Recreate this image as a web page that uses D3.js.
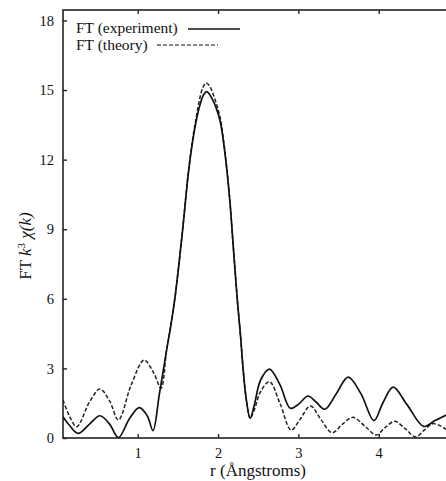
<!DOCTYPE html>
<html>
<head>
<meta charset="utf-8">
<script src="https://cdn.jsdelivr.net/npm/d3@7"></script>
<style>
  html, body { margin: 0; padding: 0; background: #fff; }
  svg { display: block; }
  svg text { font-family: "Liberation Serif", "Times New Roman", Times, serif !important; fill: #111; }
</style>
</head>
<body>
<svg id="chart" width="446" height="481"></svg>
<script>
// ---- data ----
const expR = [0.07, 0.15, 0.26, 0.40, 0.53, 0.65, 0.76, 0.90, 1.02, 1.12, 1.19, 1.27, 1.36, 1.41, 1.46, 1.51, 1.56, 1.63, 1.68, 1.73, 1.77, 1.82, 1.86, 1.93, 1.98, 2.03, 2.07, 2.11, 2.15, 2.18, 2.21, 2.24, 2.28, 2.31, 2.35, 2.40, 2.45, 2.53, 2.64, 2.77, 2.90, 3.00, 3.12, 3.22, 3.33, 3.47, 3.62, 3.78, 3.94, 4.05, 4.18, 4.35, 4.56, 4.70, 4.85];
const expV = [0.92, 0.55, 0.20, 0.60, 0.96, 0.60, 0.02, 0.85, 1.31, 0.95, 0.32, 1.90, 3.80, 4.80, 5.95, 7.40, 9.00, 11.40, 12.70, 13.70, 14.30, 14.80, 14.93, 14.60, 14.20, 13.60, 12.70, 11.55, 10.10, 8.70, 7.30, 5.95, 4.40, 3.06, 1.70, 0.85, 1.40, 2.50, 2.97, 2.30, 1.28, 1.45, 1.81, 1.55, 1.24, 1.90, 2.62, 1.90, 0.75, 1.50, 2.19, 1.45, 0.50, 0.75, 1.00];

const thR = [0.07, 0.15, 0.24, 0.40, 0.53, 0.65, 0.76, 0.92, 1.08, 1.20, 1.29, 1.36, 1.41, 1.46, 1.51, 1.56, 1.63, 1.68, 1.73, 1.77, 1.81, 1.85, 1.89, 1.93, 1.98, 2.03, 2.07, 2.11, 2.15, 2.18, 2.21, 2.24, 2.28, 2.31, 2.35, 2.40, 2.45, 2.53, 2.64, 2.77, 2.91, 3.02, 3.15, 3.28, 3.42, 3.55, 3.68, 3.83, 3.97, 4.08, 4.20, 4.33, 4.46, 4.57, 4.68, 4.85];
const thV = [1.64, 0.95, 0.49, 1.55, 2.11, 1.60, 0.78, 2.30, 3.36, 2.80, 2.15, 3.80, 4.80, 5.95, 7.40, 9.00, 11.45, 12.80, 13.85, 14.60, 15.10, 15.30, 15.20, 14.90, 14.40, 13.75, 12.80, 11.60, 10.10, 8.70, 7.30, 5.95, 4.40, 3.06, 1.70, 0.85, 1.20, 2.00, 2.43, 1.50, 0.34, 0.80, 1.38, 0.80, 0.23, 0.60, 0.89, 0.50, 0.13, 0.45, 0.72, 0.40, 0.05, 0.35, 0.62, 0.35];

const xTicks = [1, 2, 3, 4];
const yTicks = [0, 3, 6, 9, 12, 15, 18];
const seriesNames = ["FT (experiment)", "FT (theory)"];

// ---- layout ----
const svg = d3.select("#chart");
const x = d3.scaleLinear().domain([0.07, 4.85]).range([63, 447]);
const y = d3.scaleLinear().domain([0, 18.45]).range([438, 10]);
const SERIF = "'Liberation Serif', 'Times New Roman', Times, serif";

// frame
svg.append("rect")
  .attr("x", x.range()[0]).attr("y", y.range()[1])
  .attr("width", x.range()[1] - x.range()[0])
  .attr("height", y.range()[0] - y.range()[1])
  .attr("fill", "none").attr("stroke", "#222").attr("stroke-width", 1.6);

// axes with inward ticks
const axB = svg.append("g").attr("transform", `translate(0,${y(0)})`)
  .call(d3.axisBottom(x).tickValues(xTicks).tickSizeInner(-4).tickSizeOuter(0).tickPadding(10).tickFormat(d3.format("d")));
const axT = svg.append("g").attr("transform", `translate(0,${y.range()[1]})`)
  .call(d3.axisTop(x).tickValues(xTicks).tickSizeInner(-4).tickSizeOuter(0).tickFormat(""));
const axL = svg.append("g").attr("transform", `translate(${x.range()[0]},0)`)
  .call(d3.axisLeft(y).tickValues(yTicks).tickSizeInner(-4).tickSizeOuter(0).tickPadding(9).tickFormat(d3.format("d")));
[axB, axT, axL].forEach(g => {
  g.attr("font-family", SERIF);
  g.select(".domain").remove();
  g.selectAll(".tick line").attr("stroke", "#222").attr("stroke-width", 1.4);
  g.selectAll(".tick text").style("font-family", SERIF).attr("font-size", 14.5).attr("fill", "#222");
});

// lines
const line = d3.line().x(d => x(d[0])).y(d => y(d[1])).curve(d3.curveCatmullRom.alpha(0.5));
const expPts = expR.map((r, i) => [r, expV[i]]);
const thPts = thR.map((r, i) => [r, thV[i]]);

svg.append("defs").append("clipPath").attr("id", "clip")
  .append("rect").attr("x", x.range()[0]).attr("y", y.range()[1])
  .attr("width", x.range()[1] - x.range()[0]).attr("height", y.range()[0] - y.range()[1]);

const plot = svg.append("g").attr("clip-path", "url(#clip)");
plot.append("path").datum(thPts).attr("d", line)
  .attr("fill", "none").attr("stroke", "#222").attr("stroke-width", 1.5).attr("stroke-dasharray", "4,2");
plot.append("path").datum(expPts).attr("d", line)
  .attr("fill", "none").attr("stroke", "#111").attr("stroke-width", 1.7);

// legend
const leg = svg.append("g").style("font-family", SERIF);
leg.append("text").attr("x", 76).attr("y", 33).attr("font-size", 15.5).style("font-family", SERIF).text(seriesNames[0]);
leg.append("line").attr("x1", 188).attr("x2", 240).attr("y1", 29).attr("y2", 29)
  .attr("stroke", "#111").attr("stroke-width", 1.5);
leg.append("text").attr("x", 76).attr("y", 50).attr("font-size", 15.5).style("font-family", SERIF).text(seriesNames[1]);
leg.append("line").attr("x1", 157).attr("x2", 218).attr("y1", 45).attr("y2", 45)
  .attr("stroke", "#111").attr("stroke-width", 1.2).attr("stroke-dasharray", "4,2");

// axis titles
svg.append("text").attr("x", 258).attr("y", 476).attr("text-anchor", "middle")
  .attr("font-size", 17).style("font-family", SERIF).text("r (Ångstroms)");

const yt = svg.append("text").attr("transform", "translate(31,246) rotate(-90)")
  .attr("text-anchor", "middle").attr("font-size", 17).style("font-family", SERIF);
yt.append("tspan").text("FT  ");
yt.append("tspan").attr("font-style", "italic").text("k");
yt.append("tspan").attr("font-size", 11).attr("dy", -6).text("3");
yt.append("tspan").attr("dy", 6).text(" ");
yt.append("tspan").attr("font-style", "italic").text("χ(k)");
</script>
</body>
</html>
